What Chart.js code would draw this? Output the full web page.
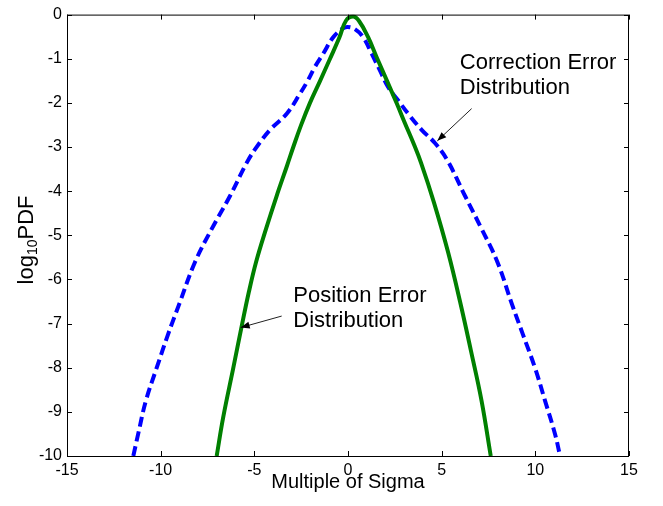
<!DOCTYPE html>
<html>
<head>
<meta charset="utf-8">
<title>log10 PDF vs multiple of sigma</title>
<script src="https://cdn.jsdelivr.net/npm/chart.js@4.4.0/dist/chart.umd.min.js"></script>
<style>
    html, body { margin: 0; padding: 0; background: #fff; }
    #wrap { width: 663px; height: 506px; }
</style>
</head>
<body>
<div id="wrap"><canvas id="pdfChart" width="663" height="506"></canvas></div>
<script>
// Curves: x = multiple of sigma, y = log10 of the PDF
const correctionX = [-11.46, -11.2, -10.79, -10.21, -9.61, -9.02, -8.17, -7.28, -6.3, -5.41, -4.91, -4.16, -3.26, -2.56, -2.14, -1.76, -1.33, -0.8, -0.34, -0.05,
    0.37, 0.82, 1.27, 1.71, 2.14, 2.67, 3.2, 3.93, 4.64, 5.29, 6.25, 7.14, 7.98, 8.76, 9.34, 9.98, 10.52, 11.05, 11.32];
const correctionY = [-10, -9.5, -8.75, -8.0, -7.25, -6.57, -5.61, -4.86, -4.11, -3.36, -3.02, -2.61, -2.24, -1.79, -1.49, -1.18, -0.89, -0.52, -0.33, -0.28,
    -0.33, -0.52, -0.89, -1.27, -1.64, -1.94, -2.24, -2.61, -2.91, -3.29, -4.11, -4.86, -5.61, -6.57, -7.25, -8.0, -8.75, -9.5, -10];

const positionX = [-7.01, -6.66, -6.12, -5.68, -5.29, -4.91, -4.38, -3.81, -3.26, -2.92, -2.51, -2.03, -1.49, -0.96, -0.46, -0.11, 0.27,
    0.59, 1.08, 1.53, 2.07, 2.6, 3.04, 3.49, 3.9, 4.59, 5.34, 5.98, 6.57, 7.13, 7.62];
const positionY = [-10, -9.12, -8.0, -7.07, -6.28, -5.61, -4.86, -4.11, -3.43, -3.0, -2.51, -2.0, -1.5, -1.0, -0.52, -0.14, -0.045,
    -0.144, -0.516, -0.965, -1.49, -2.01, -2.46, -2.91, -3.36, -4.26, -5.38, -6.5, -7.63, -8.75, -10];

// Axis ranges / tick steps
const xRange = [-15, 15];
const xStep = 5;
const yRange = [-10, 0];
const yStep = 1;

const FONT = 'Arial, "Liberation Sans", Helvetica, sans-serif';

// Text callouts, anchored in data units
const callouts = [
    { lines: ['Correction Error', 'Distribution'], at: [5.97, -1.23], from: [6.6, -2.13], to: [4.77, -2.86] },
    { lines: ['Position Error', 'Distribution'], at: [-2.92, -6.5], from: [-3.54, -6.83], to: [-5.73, -7.09] }
];

function toPoints(xs, ys) {
    return xs.map((x, i) => ({ x: x, y: ys[i] }));
}

// MATLAB-like box with inward ticks, y label with subscript, and callouts
const matlabFrame = {
    id: 'matlabFrame',
    afterDatasetsDraw(chart) {
        const { ctx, chartArea: a, scales: { x, y } } = chart;
        const tick = 5;
        ctx.save();
        ctx.strokeStyle = '#000';
        ctx.lineWidth = 1;
        ctx.strokeRect(a.left + 0.5, a.top + 0.5, a.right - a.left - 1, a.bottom - a.top);

        ctx.beginPath();
        x.ticks.forEach(t => {
            const px = Math.round(x.getPixelForValue(t.value)) + 0.5;
            ctx.moveTo(px, a.bottom); ctx.lineTo(px, a.bottom - tick);
            ctx.moveTo(px, a.top); ctx.lineTo(px, a.top + tick);
        });
        y.ticks.forEach(t => {
            const py = Math.round(y.getPixelForValue(t.value)) + 0.5;
            ctx.moveTo(a.left, py); ctx.lineTo(a.left + tick, py);
            ctx.moveTo(a.right, py); ctx.lineTo(a.right - tick, py);
        });
        ctx.stroke();

        // y axis title: log_10 PDF, rotated
        const big = '22px ' + FONT, small = '14px ' + FONT;
        ctx.font = big;
        const wLog = ctx.measureText('log').width;
        const wPdf = ctx.measureText('PDF').width;
        ctx.font = small;
        const w10 = ctx.measureText('10').width;
        const total = wLog + w10 + wPdf;
        ctx.translate(33, 240);
        ctx.rotate(-Math.PI / 2);
        ctx.fillStyle = '#000';
        ctx.textBaseline = 'alphabetic';
        ctx.textAlign = 'left';
        let cx = -total / 2;
        ctx.font = big; ctx.fillText('log', cx, 0); cx += wLog;
        ctx.font = small; ctx.fillText('10', cx, 4); cx += w10;
        ctx.font = big; ctx.fillText('PDF', cx, 0);
        ctx.setTransform(1, 0, 0, 1, 0, 0);

        // callouts
        callouts.forEach(c => {
            ctx.font = '22px ' + FONT;
            ctx.fillStyle = '#000';
            const tx = x.getPixelForValue(c.at[0]);
            const ty = y.getPixelForValue(c.at[1]);
            c.lines.forEach((line, i) => ctx.fillText(line, tx, ty + i * 25));

            const x0 = x.getPixelForValue(c.from[0]), y0 = y.getPixelForValue(c.from[1]);
            const x1 = x.getPixelForValue(c.to[0]), y1 = y.getPixelForValue(c.to[1]);
            ctx.strokeStyle = '#222';
            ctx.lineWidth = 1;
            ctx.beginPath();
            ctx.moveTo(x0, y0); ctx.lineTo(x1, y1);
            ctx.stroke();
            const ang = Math.atan2(y1 - y0, x1 - x0);
            const len = 9, half = 3.5;
            ctx.beginPath();
            ctx.moveTo(x1, y1);
            ctx.lineTo(x1 - len * Math.cos(ang) + half * Math.sin(ang), y1 - len * Math.sin(ang) - half * Math.cos(ang));
            ctx.lineTo(x1 - len * Math.cos(ang) - half * Math.sin(ang), y1 - len * Math.sin(ang) + half * Math.cos(ang));
            ctx.closePath();
            ctx.fillStyle = '#000';
            ctx.fill();
        });
        ctx.restore();
    }
};

const ctx = document.getElementById('pdfChart').getContext('2d');
new Chart(ctx, {
    type: 'line',
    data: {
        datasets: [
            {
                label: 'Position Error Distribution',
                data: toPoints(positionX, positionY),
                borderColor: '#008000',
                borderWidth: 4,
                pointRadius: 0,
                tension: 0.4,
                fill: false
            },
            {
                label: 'Correction Error Distribution',
                data: toPoints(correctionX, correctionY),
                borderColor: '#0000ff',
                borderWidth: 4,
                borderDash: [10, 5],
                borderCapStyle: 'butt',
                pointRadius: 0,
                tension: 0.4,
                fill: false
            }
        ]
    },
    options: {
        responsive: false,
        animation: false,
        events: [],
        layout: { padding: { top: 10, right: 34, bottom: 0, left: 0 } },
        plugins: {
            legend: { display: false },
            tooltip: { enabled: false }
        },
        scales: {
            x: {
                type: 'linear',
                min: xRange[0],
                max: xRange[1],
                grid: { display: false, drawTicks: false },
                border: { display: false },
                ticks: {
                    stepSize: xStep,
                    color: '#000',
                    maxRotation: 0,
                    padding: 5,
                    font: { family: FONT, size: 16 }
                },
                title: {
                    display: true,
                    text: 'Multiple of Sigma',
                    color: '#000',
                    font: { family: FONT, size: 20 },
                    padding: { top: 0, bottom: 12 }
                },
                afterFit: s => { s.height = 50; }
            },
            y: {
                type: 'linear',
                min: yRange[0],
                max: yRange[1],
                grid: { display: false, drawTicks: false },
                border: { display: false },
                ticks: {
                    stepSize: yStep,
                    color: '#000',
                    padding: 5,
                    font: { family: FONT, size: 16 }
                },
                afterFit: s => { s.width = 67; }
            }
        }
    },
    plugins: [matlabFrame]
});
</script>
</body>
</html>
